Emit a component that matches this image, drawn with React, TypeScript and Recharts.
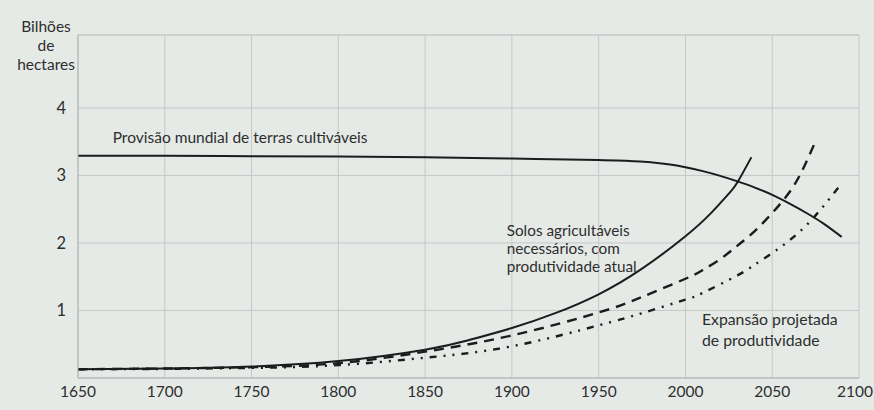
import React from "react";
import { LineChart, Line, XAxis, YAxis, CartesianGrid, ReferenceDot, ReferenceLine } from "recharts";

const xTicks = [1650, 1700, 1750, 1800, 1850, 1900, 1950, 2000, 2050, 2100];
const yTicks = [1, 2, 3, 4];
const yTop = 5.08;

const supplyYears = [1650, 1700, 1750, 1800, 1850, 1900, 1950, 1960, 1970, 1980, 1990, 2000, 2010, 2020, 2030, 2040, 2050, 2060, 2070, 2080, 2090];
const supplyValues = [3.29, 3.29, 3.285, 3.28, 3.27, 3.25, 3.228, 3.222, 3.212, 3.196, 3.166, 3.122, 3.064, 2.994, 2.912, 2.82, 2.712, 2.583, 2.44, 2.28, 2.09];

const currentYears = [1650, 1700, 1750, 1800, 1850, 1875, 1900, 1925, 1950, 1975, 2000, 2015, 2025, 2030, 2038];
const currentValues = [0.13, 0.14, 0.17, 0.25, 0.42, 0.56, 0.74, 0.96, 1.24, 1.62, 2.1, 2.45, 2.73, 2.9, 3.27];

const dashedYears = [1650, 1700, 1750, 1800, 1850, 1900, 1950, 1975, 2000, 2010, 2020, 2029, 2038, 2047, 2055, 2062, 2068, 2074];
const dashedValues = [0.13, 0.14, 0.16, 0.22, 0.39, 0.63, 0.97, 1.2, 1.47, 1.6, 1.76, 1.94, 2.13, 2.36, 2.59, 2.83, 3.11, 3.45];

const dotYears = [1650, 1700, 1750, 1800, 1850, 1900, 1950, 1975, 2000, 2010, 2030, 2040, 2050, 2060, 2070, 2080, 2090];
const dotValues = [0.13, 0.135, 0.15, 0.19, 0.3, 0.47, 0.78, 0.96, 1.16, 1.26, 1.52, 1.68, 1.85, 2.04, 2.27, 2.56, 2.88];

const titleLines = ["Bilhões", "de", "hectares"];
const supplyLabel = ["Provisão mundial de terras cultiváveis"];
const currentLabel = ["Solos agricultáveis", "necessários, com", "produtividade atual"];
const expansionLabel = ["Expansão projetada", "de produtividade"];

const pair = (xs: number[], ys: number[]) => xs.map((x, i) => ({ year: x, v: ys[i] }));

const supply = pair(supplyYears, supplyValues);
const current = pair(currentYears, currentValues);
const dashed = pair(dashedYears, dashedValues);
const dotted = pair(dotYears, dotValues);

const FONT = "Lato, 'Open Sans', sans-serif";
const INK = "#1c1c1c";
const TXT = "#2e2e2e";
const GRID = "#c3c9c6";

const Note = (props: any) => {
  const { viewBox, lines, gap, size } = props;
  const x = viewBox ? viewBox.x + (viewBox.width || 0) / 2 : 0;
  const y = viewBox ? viewBox.y + (viewBox.height || 0) / 2 : 0;
  return (
    <text x={x} y={y} fill={TXT} fontSize={size} fontFamily={FONT}>
      {lines.map((l: string, i: number) => (
        <tspan key={i} x={x} dy={i === 0 ? 0 : gap}>
          {l}
        </tspan>
      ))}
    </text>
  );
};

const XTick = (props: any) => {
  const { x, y, payload } = props;
  const last = payload.value === xTicks[xTicks.length - 1];
  return (
    <text
      x={last ? x + 14 : x}
      y={y}
      dy="0.71em"
      textAnchor={last ? "end" : "middle"}
      fill={TXT}
      fontSize={15.5}
      fontFamily={FONT}
    >
      {payload.value}
    </text>
  );
};

export default function App() {
  return (
    <div
      style={{
        position: "fixed",
        left: 0,
        top: 0,
        width: 874,
        height: 410,
        background: "#e5eae7",
      }}
    >
      <div
        style={{
          position: "absolute",
          left: 14,
          top: 17,
          width: 64,
          textAlign: "center",
          fontFamily: FONT,
          fontSize: 15.5,
          lineHeight: "19px",
          color: TXT,
        }}
      >
        {titleLines.map((t) => (
          <div key={t}>{t}</div>
        ))}
      </div>
      <LineChart
        width={874}
        height={410}
        margin={{ top: 35, right: 15, bottom: 0, left: 0 }}
        style={{ position: "absolute", left: 0, top: 0 }}
      >
        <CartesianGrid stroke={GRID} strokeWidth={1} />
        <XAxis
          dataKey="year"
          type="number"
          domain={[1650, 2100]}
          ticks={xTicks}
          height={32}
          tickLine={false}
          tickSize={0}
          tickMargin={8}
          axisLine={{ stroke: "#aeb4b1" }}
          tick={<XTick />}
          interval={0}
          allowDuplicatedCategory={false}
        />
        <YAxis
          type="number"
          domain={[0, yTop]}
          ticks={yTicks}
          width={78}
          tickLine={false}
          tickSize={0}
          tickMargin={12}
          axisLine={{ stroke: "#aeb4b1" }}
          tick={{ fill: TXT, fontSize: 16.5, fontFamily: FONT }}
        />
        <ReferenceLine y={yTop} stroke={GRID} />
        <Line data={supply} dataKey="v" type="monotone" stroke={INK} strokeWidth={2} dot={false} isAnimationActive={false} />
        <Line data={current} dataKey="v" type="natural" stroke={INK} strokeWidth={2} dot={false} isAnimationActive={false} />
        <Line data={dashed} dataKey="v" type="natural" stroke={INK} strokeWidth={2.4} strokeDasharray="10 7" dot={false} isAnimationActive={false} />
        <Line data={dotted} dataKey="v" type="natural" stroke={INK} strokeWidth={2.4} strokeDasharray="7 7 2 7 2 7" dot={false} isAnimationActive={false} />
        <ReferenceDot x={1670} y={3.48} r={0} fill="none" stroke="none" label={<Note lines={supplyLabel} gap={18} size={15.5} />} />
        <ReferenceDot x={1897} y={2.1} r={0} fill="none" stroke="none" label={<Note lines={currentLabel} gap={18} size={15.3} />} />
        <ReferenceDot x={2009.5} y={0.785} r={0} fill="none" stroke="none" label={<Note lines={expansionLabel} gap={21} size={15.8} />} />
      </LineChart>
    </div>
  );
}
